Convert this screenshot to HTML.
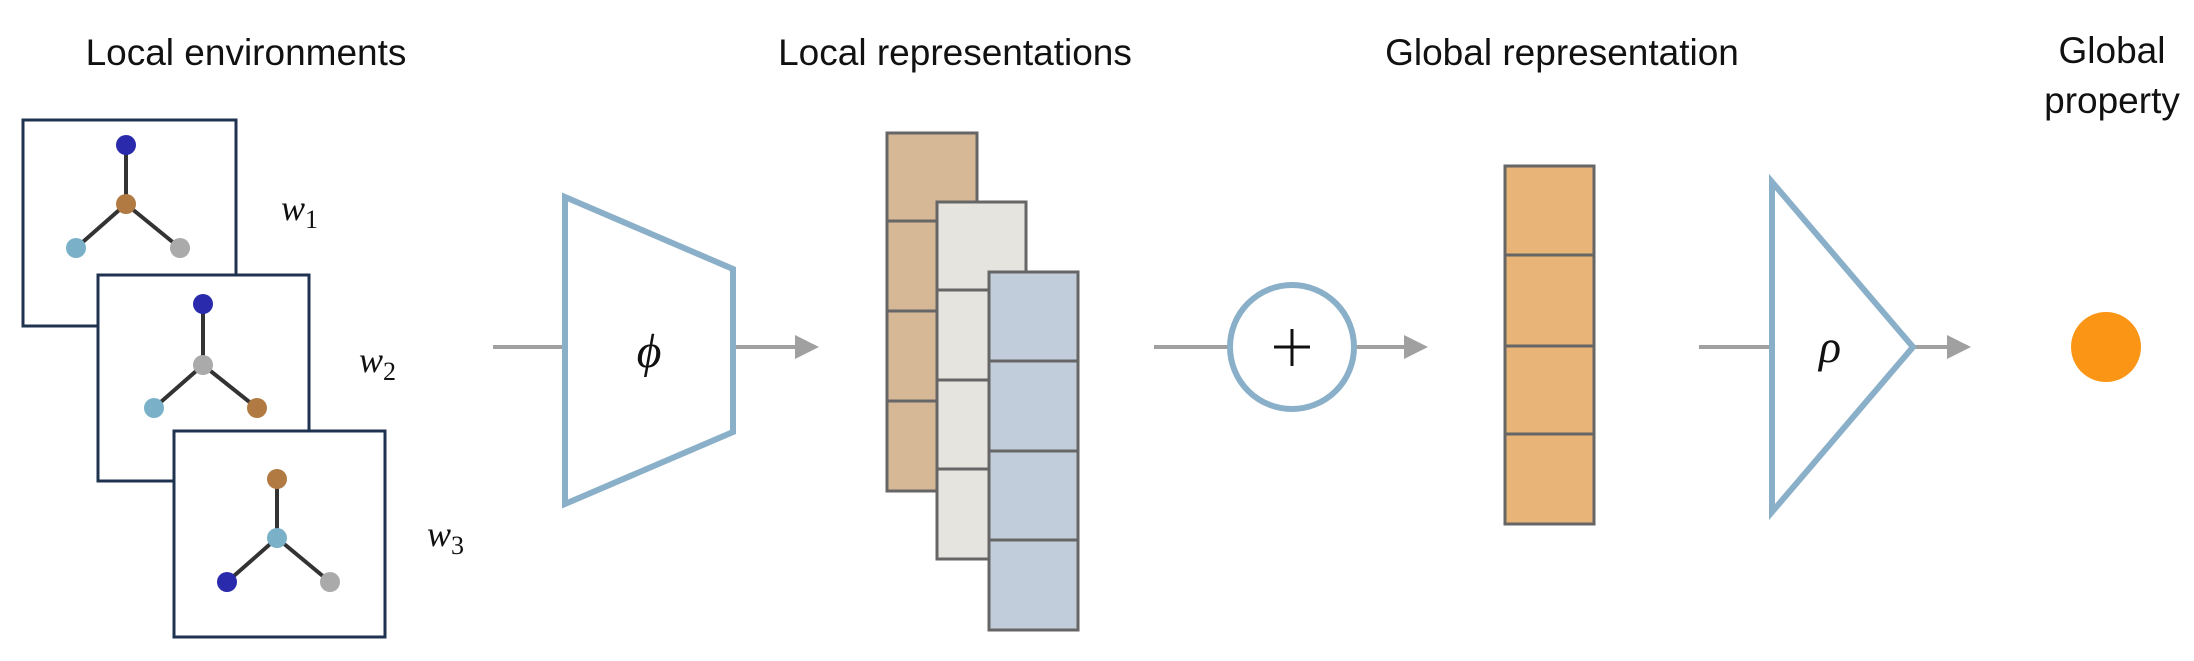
<!DOCTYPE html>
<html><head><meta charset="utf-8"><style>
html,body{margin:0;padding:0;background:#fff;}
svg{display:block;}
.t{font-family:"Liberation Sans",Arial,sans-serif;font-size:37px;fill:#111;}
.m{font-family:"Liberation Serif","DejaVu Serif",serif;font-style:italic;fill:#111;}
</style></head><body>
<svg width="2194" height="661" viewBox="0 0 2194 661" xmlns="http://www.w3.org/2000/svg">
<defs><marker id="a" markerWidth="6" markerHeight="6" refX="5" refY="3" orient="auto" markerUnits="strokeWidth"><path d="M0,0 L6,3 L0,6 z" fill="#a0a0a0"/></marker></defs>
<text class="t" x="246" y="65" text-anchor="middle">Local environments</text>
<text class="t" x="955" y="65" text-anchor="middle">Local representations</text>
<text class="t" x="1562" y="65" text-anchor="middle">Global representation</text>
<text class="t" x="2112" y="63" text-anchor="middle">Global</text>
<text class="t" x="2112" y="113" text-anchor="middle">property</text>

<g stroke="#1f3350" stroke-width="3" fill="#fff">
<rect x="23" y="120" width="213" height="206"/>
</g>
<g stroke="#333" stroke-width="4"><line x1="126" y1="145" x2="126" y2="204"/><line x1="126" y1="204" x2="76" y2="248"/><line x1="126" y1="204" x2="180" y2="248"/></g>
<circle cx="126" cy="145" r="10" fill="#2a2aad"/><circle cx="126" cy="204" r="10" fill="#b07a42"/><circle cx="76" cy="248" r="10" fill="#7ab0c8"/><circle cx="180" cy="248" r="10" fill="#aaaaaa"/>

<rect x="98" y="275" width="211" height="206" stroke="#1f3350" stroke-width="3" fill="#fff"/>
<g stroke="#333" stroke-width="4"><line x1="203" y1="304" x2="203" y2="365"/><line x1="203" y1="365" x2="154" y2="408"/><line x1="203" y1="365" x2="257" y2="408"/></g>
<circle cx="203" cy="304" r="10" fill="#2a2aad"/><circle cx="203" cy="365" r="10" fill="#aaaaaa"/><circle cx="154" cy="408" r="10" fill="#7ab0c8"/><circle cx="257" cy="408" r="10" fill="#b07a42"/>

<rect x="174" y="431" width="211" height="206" stroke="#1f3350" stroke-width="3" fill="#fff"/>
<g stroke="#333" stroke-width="4"><line x1="277" y1="479" x2="277" y2="538"/><line x1="277" y1="538" x2="227" y2="582"/><line x1="277" y1="538" x2="330" y2="582"/></g>
<circle cx="277" cy="479" r="10" fill="#b07a42"/><circle cx="277" cy="538" r="10" fill="#7ab0c8"/><circle cx="227" cy="582" r="10" fill="#2a2aad"/><circle cx="330" cy="582" r="10" fill="#aaaaaa"/>

<text class="m" x="281" y="220" font-size="36">w<tspan font-style="normal" font-size="26" dy="8">1</tspan></text>
<text class="m" x="359" y="372" font-size="36">w<tspan font-style="normal" font-size="26" dy="8">2</tspan></text>
<text class="m" x="427" y="546" font-size="36">w<tspan font-style="normal" font-size="26" dy="8">3</tspan></text>

<g stroke="#a0a0a0" stroke-width="4" fill="none">
<line x1="493" y1="347" x2="565" y2="347"/>
<line x1="733" y1="347" x2="815" y2="347" marker-end="url(#a)"/>
<line x1="1154" y1="347" x2="1229" y2="347"/>
<line x1="1355" y1="347" x2="1424" y2="347" marker-end="url(#a)"/>
<line x1="1699" y1="347" x2="1772" y2="347"/>
<line x1="1915" y1="347" x2="1967" y2="347" marker-end="url(#a)"/>
</g>
<polygon points="565,197 733,269 733,432 565,504" fill="#fff" stroke="#8aafc8" stroke-width="6"/>
<text class="m" x="649" y="367" font-size="48" text-anchor="middle">ϕ</text>

<g stroke="#666" stroke-width="3">
<rect x="887" y="133" width="90" height="358" fill="#d6b897"/>
<line x1="887" y1="221" x2="977" y2="221"/><line x1="887" y1="311" x2="977" y2="311"/><line x1="887" y1="401" x2="977" y2="401"/>
<rect x="937" y="202" width="89" height="357" fill="#e6e4df"/>
<line x1="937" y1="290" x2="1026" y2="290"/><line x1="937" y1="380" x2="1026" y2="380"/><line x1="937" y1="469" x2="1026" y2="469"/>
<rect x="989" y="272" width="89" height="358" fill="#c2cddb"/>
<line x1="989" y1="361" x2="1078" y2="361"/><line x1="989" y1="451" x2="1078" y2="451"/><line x1="989" y1="540" x2="1078" y2="540"/>
<rect x="1505" y="166" width="89" height="358" fill="#e8b478"/>
<line x1="1505" y1="255" x2="1594" y2="255"/><line x1="1505" y1="346" x2="1594" y2="346"/><line x1="1505" y1="434" x2="1594" y2="434"/>
</g>

<circle cx="1292" cy="347" r="62" fill="#fff" stroke="#8aafc8" stroke-width="6"/>
<g stroke="#111" stroke-width="3"><line x1="1274" y1="347" x2="1310" y2="347"/><line x1="1292" y1="329" x2="1292" y2="366"/></g>

<polygon points="1772,182 1913,347 1772,512" fill="#fff" stroke="#8aafc8" stroke-width="6"/>
<text class="m" x="1830" y="362" font-size="46" text-anchor="middle">ρ</text>

<circle cx="2106" cy="347" r="35" fill="#fb9515"/>
</svg>
</body></html>
